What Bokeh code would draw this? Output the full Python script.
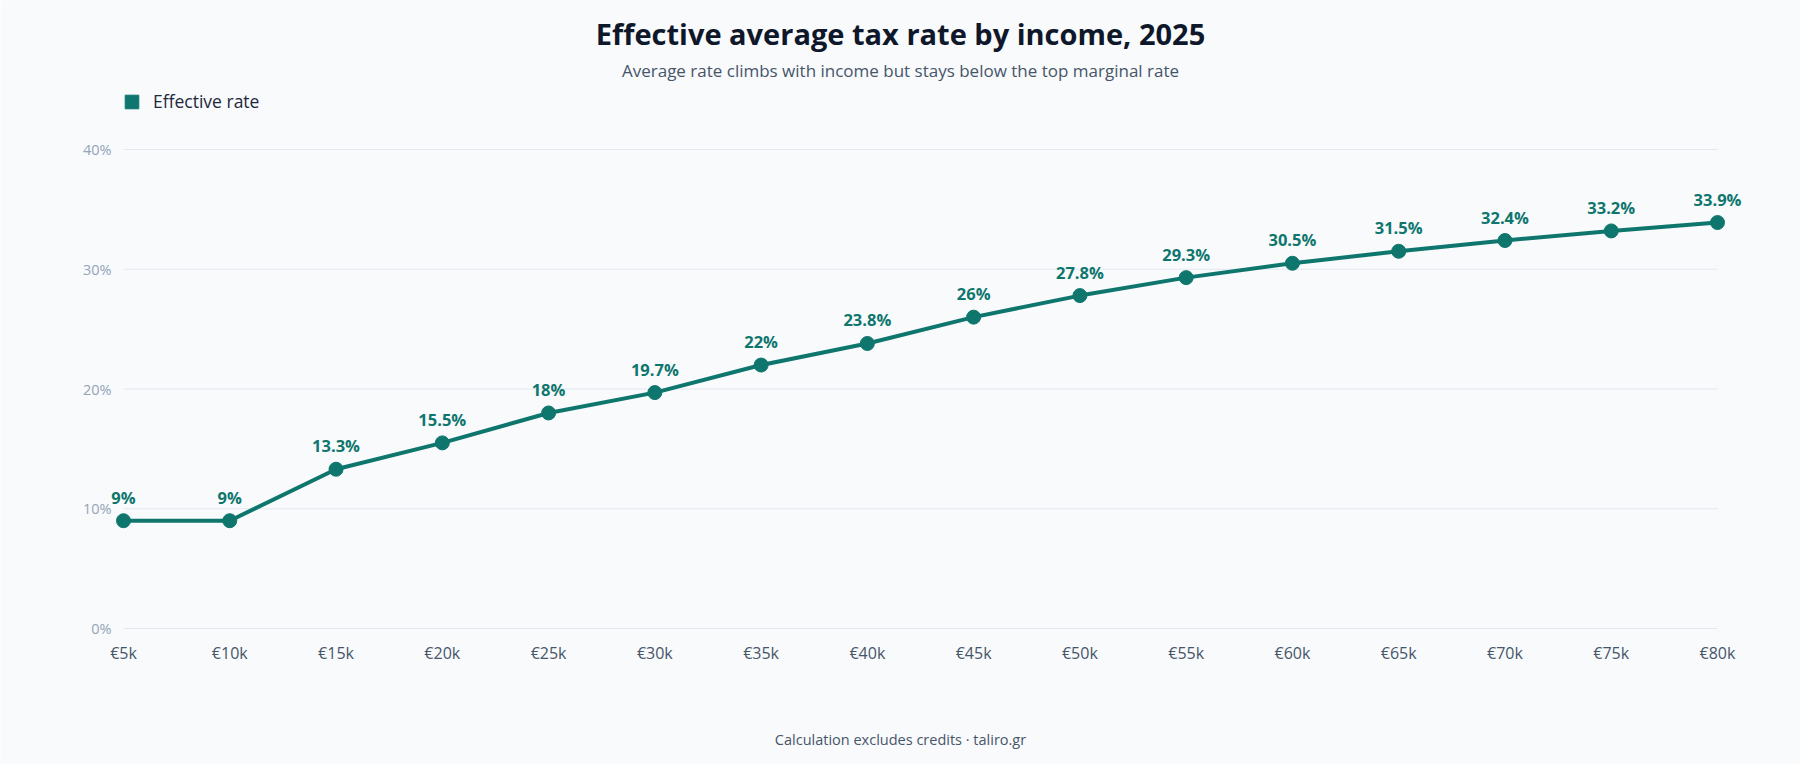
from bokeh.plotting import figure
from bokeh.models import (ColumnDataSource, LabelSet, Label, Legend, LegendItem,
                          FixedTicker, Range1d)
from bokeh.core.properties import value
from bokeh.embed import file_html
from bokeh.resources import INLINE

# Income brackets (thousand €) and effective average tax rate (%)
income_k = [5, 10, 15, 20, 25, 30, 35, 40, 45, 50, 55, 60, 65, 70, 75, 80]
effective_rate = [9, 9, 13.3, 15.5, 18, 19.7, 22, 23.8, 26, 27.8, 29.3, 30.5, 31.5, 32.4, 33.2, 33.9]
x_tick_labels = [f"€{k}k" for k in income_k]
y_ticks = [0, 10, 20, 30, 40]
y_tick_labels = [f"{t}%" for t in y_ticks]

TITLE = "Effective average tax rate by income, 2025"
SUBTITLE = "Average rate climbs with income but stays below the top marginal rate"
FOOTER = "Calculation excludes credits · taliro.gr"
SERIES = "Effective rate"

TEAL = "#0f766e"
BG = "#f8fafc"
FONT = "Open Sans"

W, H = 1800, 764
# pixel geometry of the data area: x 5..80 and y 0..40
PX_X5, PX_X80, PX_Y40, PX_Y0 = 123, 1717, 149, 628
X_LO, X_HI, Y_LO, Y_HI = income_k[0], income_k[-1], y_ticks[0], y_ticks[-1]
KX = (PX_X80 - PX_X5) / (X_HI - X_LO)
KY = (PX_Y0 - PX_Y40) / (Y_HI - Y_LO)


def sx(px):
    return X_LO + (px - PX_X5) / KX


def sy(py):
    return Y_LO + (PX_Y0 - py) / KY


# the frame covers the whole canvas; axes are pinned inside it
p = figure(width=W, height=H, output_backend="svg", toolbar_location=None,
           x_range=Range1d(sx(0), sx(W)), y_range=Range1d(sy(H), sy(0)),
           min_border=0, min_border_left=0, min_border_right=0,
           min_border_top=0, min_border_bottom=0,
           background_fill_color=BG, border_fill_color=BG)
p.outline_line_color = None

# horizontal gridlines spanning the income range
p.segment(x0=[X_LO] * len(y_ticks), x1=[X_HI] * len(y_ticks), y0=y_ticks, y1=y_ticks,
          line_color="#e2e8f0", line_width=1)

src = ColumnDataSource(dict(x=income_k, y=effective_rate,
                            label=[f"{v:g}%" for v in effective_rate]))

p.line("x", "y", source=src, line_color=TEAL, line_width=4)
p.scatter("x", "y", source=src, size=14, fill_color=TEAL, line_color=TEAL)

p.add_layout(LabelSet(x="x", y="y", text="label", source=src,
                      text_font=value(FONT), text_font_size=value("16.5px"),
                      text_font_style="bold",
                      text_color=TEAL, text_align="center",
                      text_baseline="alphabetic", y_offset=17))

# axes
p.xaxis.fixed_location = Y_LO
p.yaxis.fixed_location = X_LO
p.xaxis.ticker = FixedTicker(ticks=income_k)
p.xaxis.major_label_overrides = dict(zip(income_k, x_tick_labels))
p.yaxis.ticker = FixedTicker(ticks=y_ticks)
p.yaxis.major_label_overrides = dict(zip(y_ticks, y_tick_labels))
for ax in (p.xaxis, p.yaxis):
    ax.axis_line_color = None
    ax.major_tick_line_color = None
    ax.minor_tick_line_color = None
    ax.major_tick_out = 0
    ax.major_tick_in = 0
    ax.major_label_text_font = FONT
p.xaxis.major_label_text_font_size = "16px"
p.xaxis.major_label_text_color = "#475569"
p.xaxis.major_label_standoff = 13
p.yaxis.major_label_text_font_size = "14.5px"
p.yaxis.major_label_text_color = "#94a3b8"
p.yaxis.major_label_standoff = 12
p.xgrid.grid_line_color = None
p.ygrid.grid_line_color = None

# legend key
nan = float("nan")
swatch = p.quad(left=[nan], right=[nan], top=[nan], bottom=[nan],
                fill_color=TEAL, line_color=TEAL, border_radius=3)
legend = Legend(items=[LegendItem(label=SERIES, renderers=[swatch])],
                location=(PX_X5, H - 113), orientation="horizontal",
                glyph_width=17, glyph_height=17, label_height=17, label_standoff=13,
                label_text_font=FONT, label_text_font_size="17.5px",
                label_text_color="#1e293b", padding=0, margin=0, spacing=0,
                background_fill_alpha=0, border_line_color=None)
p.add_layout(legend)

# headings and footer
p.add_layout(Label(x=sx(900), y=sy(33), text=TITLE, text_font=FONT,
                   text_font_size="29px", text_font_style="bold", text_color="#0f172a",
                   text_align="center", text_baseline="middle"))
p.add_layout(Label(x=sx(900), y=sy(70), text=SUBTITLE, text_font=FONT,
                   text_font_size="17px", text_color="#475569",
                   text_align="center", text_baseline="middle"))
p.add_layout(Label(x=sx(900), y=sy(739), text=FOOTER, text_font=FONT,
                   text_font_size="14.5px", text_color="#475569",
                   text_align="center", text_baseline="middle"))

open("out.html", "w").write(file_html(p, INLINE))
